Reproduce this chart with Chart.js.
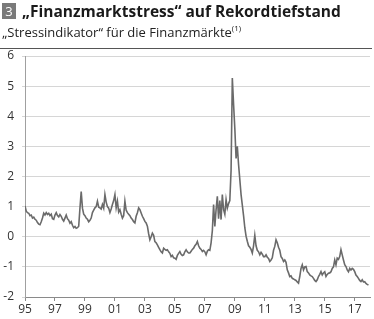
<!DOCTYPE html>
<html>
<head>
<meta charset="utf-8">
<script src="https://cdn.jsdelivr.net/npm/chart.js@4"></script>
<style>
  html, body { margin: 0; padding: 0; background: #fff; }
  body { width: 374px; height: 319px; position: relative; overflow: hidden; font-family: "Open Sans", sans-serif; color: #1a1a1a; }
  #num { position: absolute; left: 2px; top: 3px; width: 14px; height: 16px; background: #7a7a7a; color: #fff; font-size: 13px; line-height: 16px; text-align: center; }
  #title { position: absolute; left: 22px; top: 0px; font-size: 15.5px; font-weight: bold; white-space: nowrap; }
  #sub { position: absolute; left: 2px; top: 22px; font-size: 13px; white-space: nowrap; color: #222; }
  #sub sup { font-size: 8px; vertical-align: 6px; }
  #rule { position: absolute; left: 0; top: 48px; width: 372px; height: 1px; background: #555; }
  #wrap { position: absolute; left: 0; top: 0; width: 374px; height: 319px; }
</style>
</head>
<body>
<div id="wrap"><canvas id="myChart" width="374" height="319"></canvas></div>
<div id="num">3</div>
<div id="title">„Finanzmarktstress“ auf Rekordtiefstand</div>
<div id="sub">„Stressindikator“ für die Finanzmärkte<sup>(1)</sup></div>
<div id="rule"></div>
<script>
// monthly values, Jan 1995 .. Dec 2017
const firstYear = 1995;
const stress = [
  1.02, 0.85, 0.80, 0.78, 0.70, 0.72, 0.62, 0.65, 0.58, 0.55, 0.47, 0.42, // 1995
  0.40, 0.50, 0.62, 0.78, 0.72, 0.80, 0.74, 0.78, 0.70, 0.75, 0.60, 0.58, // 1996
  0.72, 0.80, 0.70, 0.66, 0.74, 0.68, 0.58, 0.52, 0.62, 0.72, 0.60, 0.55, // 1997
  0.45, 0.50, 0.38, 0.30, 0.34, 0.28, 0.30, 0.35, 0.95, 1.50, 0.95, 0.75, // 1998
  0.70, 0.62, 0.58, 0.50, 0.55, 0.62, 0.80, 0.88, 0.96, 1.00, 1.18, 0.98, // 1999
  0.96, 0.92, 1.07, 0.95, 1.40, 1.15, 1.00, 0.95, 0.80, 0.92, 1.07, 1.20, // 2000
  1.40, 0.96, 1.18, 0.82, 0.90, 0.75, 0.62, 0.70, 1.18, 0.88, 0.80, 0.75, // 2001
  0.70, 0.62, 0.57, 0.50, 0.46, 0.68, 0.80, 0.96, 0.90, 0.79, 0.68, 0.60, // 2002
  0.51, 0.46, 0.35, 0.10, -0.10, 0.00, 0.12, 0.05, -0.16, -0.20, -0.27, -0.35, // 2003
  -0.43, -0.50, -0.54, -0.38, -0.42, -0.45, -0.43, -0.50, -0.55, -0.66, -0.62, -0.70, // 2004
  -0.71, -0.75, -0.62, -0.55, -0.49, -0.58, -0.62, -0.60, -0.50, -0.43, -0.50, -0.54, // 2005
  -0.54, -0.48, -0.42, -0.38, -0.30, -0.25, -0.16, -0.30, -0.38, -0.42, -0.49, -0.45, // 2006
  -0.50, -0.60, -0.48, -0.43, -0.45, -0.20, 0.20, 1.07, 0.34, 0.90, 1.34, 0.60, // 2007
  1.20, 0.57, 1.40, 0.90, 0.75, 1.23, 0.95, 1.10, 1.20, 2.20, 5.27, 4.40, // 2008
  3.60, 2.60, 3.00, 2.40, 1.90, 1.40, 1.05, 0.70, 0.30, 0.02, -0.15, -0.30, // 2009
  -0.35, -0.42, -0.54, -0.30, 0.05, -0.30, -0.45, -0.50, -0.60, -0.52, -0.58, -0.66, // 2010
  -0.66, -0.60, -0.68, -0.72, -0.82, -0.77, -0.70, -0.45, -0.32, -0.10, -0.20, -0.35, // 2011
  -0.45, -0.66, -0.72, -0.82, -0.77, -0.85, -1.10, -1.20, -1.32, -1.30, -1.38, -1.40, // 2012
  -1.43, -1.45, -1.50, -1.54, -1.32, -1.05, -0.93, -1.10, -1.00, -0.99, -1.16, -1.20, // 2013
  -1.27, -1.30, -1.32, -1.38, -1.45, -1.49, -1.43, -1.32, -1.25, -1.16, -1.27, -1.20, // 2014
  -1.16, -1.32, -1.25, -1.21, -1.20, -1.16, -1.05, -1.00, -0.77, -0.93, -0.71, -0.75, // 2015
  -0.66, -0.43, -0.60, -0.77, -0.93, -0.99, -1.10, -1.16, -1.05, -1.10, -1.05, -1.08, // 2016
  -1.16, -1.27, -1.32, -1.38, -1.45, -1.49, -1.43, -1.50, -1.49, -1.55, -1.58, -1.60  // 2017
];
const tickYears = [1995, 1997, 1999, 2001, 2003, 2005, 2007, 2009, 2011, 2013, 2015, 2017];
const yTicks = [-2, -1, 0, 1, 2, 3, 4, 5, 6];

const points = stress.map((v, i) => ({ x: firstYear + i / 12, y: v }));

const ctx = document.getElementById('myChart').getContext('2d');
const myChart = new Chart(ctx, {
  type: 'line',
  data: {
    datasets: [{
      data: points,
      borderColor: '#6a6a6a',
      borderWidth: 1.6,
      pointRadius: 0,
      tension: 0,
      fill: false
    }]
  },
  options: {
    responsive: false,
    animation: false,
    layout: { padding: { top: 56, right: 4, left: 0, bottom: 0 } },
    plugins: { legend: { display: false }, tooltip: { enabled: false } },
    scales: {
      x: {
        type: 'linear',
        min: 1995,
        max: 2018.02,
        afterBuildTicks: (axis) => { axis.ticks = tickYears.map(v => ({ value: v })); },
        afterFit: (axis) => { axis.height = 22; },
        grid: { display: true, drawOnChartArea: false, drawTicks: true, tickLength: 4, color: '#8a8a8a' },
        border: { color: '#8a8a8a', width: 1 },
        ticks: {
          autoSkip: false,
          maxRotation: 0,
          padding: 1,
          color: '#333',
          font: { family: 'Open Sans', size: 12 },
          callback: (v) => String(v).slice(2)
        }
      },
      y: {
        min: -2,
        max: 6,
        afterBuildTicks: (axis) => { axis.ticks = yTicks.map(v => ({ value: v })); },
        afterFit: (axis) => { axis.width = 25; },
        grid: { color: '#d6d6d6', tickLength: 3, drawTicks: true },
        border: { color: '#a0a0a0', width: 1 },
        ticks: {
          padding: 8,
          color: '#333',
          font: { family: 'Open Sans', size: 12 }
        }
      }
    }
  }
});
</script>
</body>
</html>
